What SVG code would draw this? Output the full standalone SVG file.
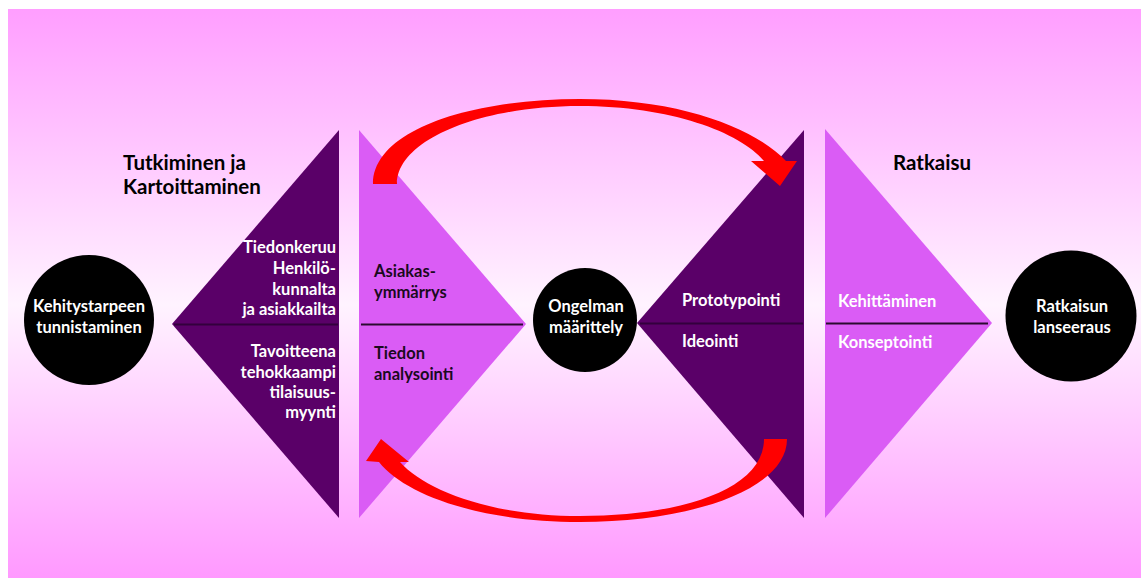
<svg xmlns="http://www.w3.org/2000/svg" width="1141" height="581" viewBox="0 0 1141 581">
  <defs>
    <linearGradient id="bg" x1="0" y1="0" x2="0" y2="1">
      <stop offset="0" stop-color="#ff9eff"/>
      <stop offset="0.52" stop-color="#fff3ff"/>
      <stop offset="1" stop-color="#ff99ff"/>
    </linearGradient>
    <style>
      .dark { fill: #5a0068; }
      .light { fill: #da5cf5; }
      .circle { fill: #000000; }
      .div-dark { stroke: #33003d; stroke-width: 2; }
      .div-light { stroke: #2a0a30; stroke-width: 2; }
      text { font-family: Lato, "Liberation Sans", sans-serif; font-weight: bold; font-size: 16.5px; }
      .w { fill: #ffffff; }
      .k { fill: #1a0a1e; }
      .title { font-size: 20.5px; fill: #000000; }
      .arrow { fill: #ff0000; }
    </style>
  </defs>

  <!-- backdrop -->
  <rect x="8" y="9" width="1133" height="569" fill="url(#bg)"/>

  <!-- phase headings -->
  <g id="title-research">
    <text class="title" x="123" y="170">Tutkiminen ja</text>
    <text class="title" x="123" y="194">Kartoittaminen</text>
  </g>
  <g id="title-solution">
    <text class="title" x="893" y="170">Ratkaisu</text>
  </g>

  <!-- start node -->
  <g id="node-need">
    <circle class="circle" cx="89" cy="320" r="65"/>
    <text class="w" x="89" y="312" text-anchor="middle">Kehitystarpeen</text>
    <text class="w" x="89" y="333" text-anchor="middle">tunnistaminen</text>
  </g>

  <!-- diverge: research -->
  <g id="node-research">
    <polygon class="dark" points="172,324 339,130 339,518"/>
    <line class="div-dark" x1="174" y1="324.5" x2="338" y2="324.5"/>
    <text class="w" x="336" y="253" text-anchor="end">Tiedonkeruu</text>
    <text class="w" x="336" y="274" text-anchor="end">Henkilö-</text>
    <text class="w" x="336" y="295" text-anchor="end">kunnalta</text>
    <text class="w" x="336" y="315" text-anchor="end">ja asiakkailta</text>
    <text class="w" x="336" y="357" text-anchor="end">Tavoitteena</text>
    <text class="w" x="336" y="378" text-anchor="end">tehokkaampi</text>
    <text class="w" x="336" y="398" text-anchor="end">tilaisuus-</text>
    <text class="w" x="336" y="418" text-anchor="end">myynti</text>
  </g>

  <!-- converge: analysis -->
  <g id="node-analysis">
    <polygon class="light" points="359,130 526,324 359,518"/>
    <line class="div-light" x1="361" y1="324.5" x2="523" y2="324.5"/>
    <text class="k" x="374" y="277">Asiakas-</text>
    <text class="k" x="374" y="298">ymmärrys</text>
    <text class="k" x="374" y="359">Tiedon</text>
    <text class="k" x="374" y="380">analysointi</text>
  </g>

  <!-- middle node -->
  <g id="node-problem">
    <circle class="circle" cx="585" cy="320" r="52"/>
    <text class="w" x="586" y="312" text-anchor="middle">Ongelman</text>
    <text class="w" x="586" y="333" text-anchor="middle">määrittely</text>
  </g>

  <!-- diverge: ideation -->
  <g id="node-ideation">
    <polygon class="dark" points="637,323 804,130 804,518"/>
    <line class="div-dark" x1="640" y1="323.5" x2="803" y2="323.5"/>
    <text class="w" x="682" y="306">Prototypointi</text>
    <text class="w" x="682" y="347">Ideointi</text>
  </g>

  <!-- converge: development -->
  <g id="node-development">
    <polygon class="light" points="825,129 992,323 825,518"/>
    <line class="div-light" x1="826" y1="323.5" x2="988" y2="323.5"/>
    <text class="w" x="838" y="307">Kehittäminen</text>
    <text class="w" x="838" y="348">Konseptointi</text>
  </g>

  <!-- end node -->
  <g id="node-launch">
    <circle class="circle" cx="1071" cy="316" r="65.5"/>
    <text class="w" x="1072" y="312" text-anchor="middle">Ratkaisun</text>
    <text class="w" x="1072" y="333" text-anchor="middle">lanseeraus</text>
  </g>

  <!-- iteration loop arrows -->
  <g id="connectors">
    <path class="arrow" d="M373,184 C373,130 470,99 580,99 C680,99 755,128 786,161 L797,161 L780,186 L751,161 L764,161 C740,132 670,106 580,106 C480,106 397,140 397,184 Z"/>
    <path class="arrow" d="M787,439 C787,490 690,522 580,522 C480,522 405,495 379,462 L366,461 L381,439 L409,462 L400,462 C425,490 490,516 580,516 C680,516 764,490 764,439 Z"/>
  </g>
</svg>
